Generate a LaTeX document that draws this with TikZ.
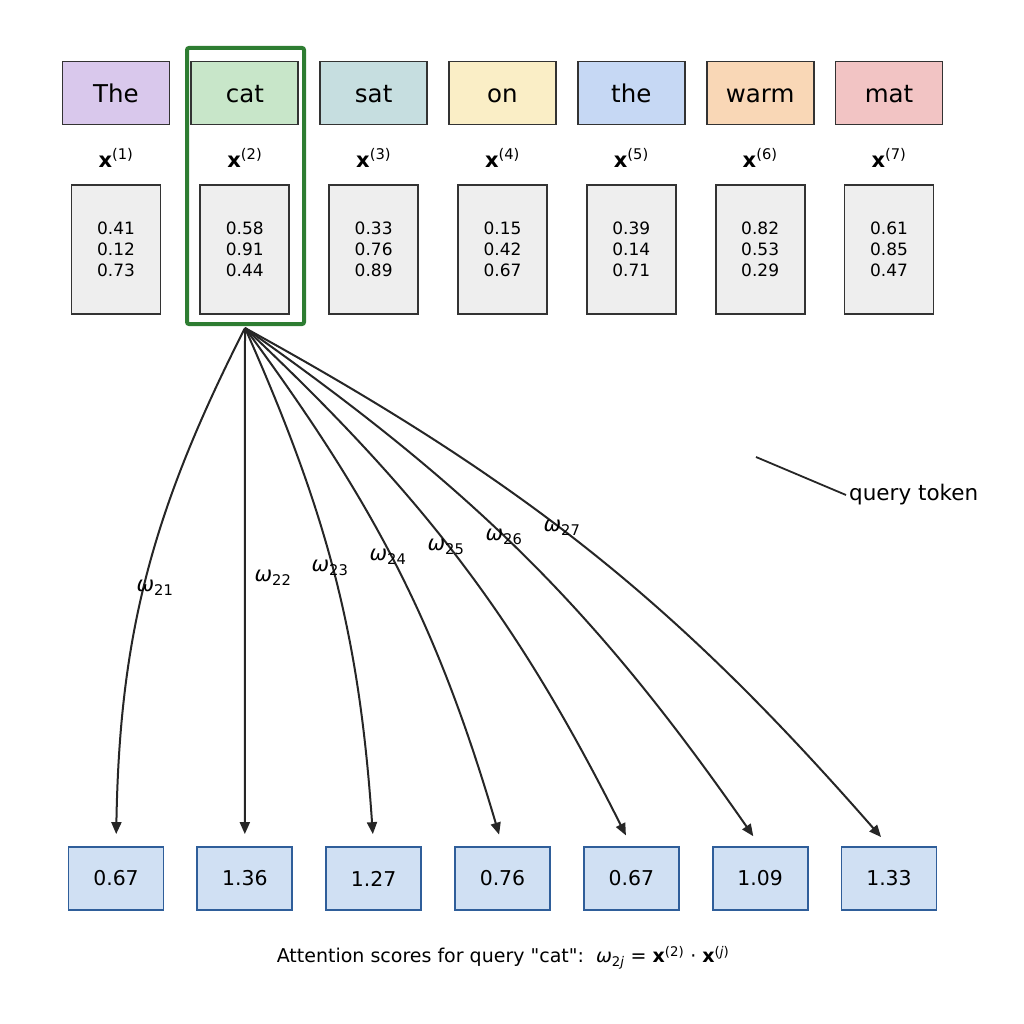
\documentclass[tikz,border=0pt]{standalone}
\usepackage{fontspec}
\setmainfont{DejaVu Sans}[Ligatures=TeXOff]
\usetikzlibrary{arrows.meta}

\definecolor{tokA}{HTML}{D9C8EC}
\definecolor{tokB}{HTML}{C8E6C9}
\definecolor{tokC}{HTML}{C6DEE0}
\definecolor{tokD}{HTML}{FAEEC6}
\definecolor{tokE}{HTML}{C6D8F4}
\definecolor{tokF}{HTML}{F9D7B6}
\definecolor{tokG}{HTML}{F2C4C4}
\definecolor{vecfill}{HTML}{EEEEEE}
\definecolor{edgegray}{HTML}{333333}
\definecolor{scorefill}{HTML}{D0E0F3}
\definecolor{scoreedge}{HTML}{2F5E9A}
\definecolor{hlgreen}{HTML}{2E7D32}

\begin{document}
\begin{tikzpicture}[x=1pt,y=-1pt,
    tok/.style={draw=edgegray, line width=1.8, minimum width=107, minimum height=63, inner sep=0,
      font=\fontsize{24.5}{28}\selectfont},
    xlbl/.style={inner sep=0, font=\fontsize{21}{24}\selectfont},
    vec/.style={draw=edgegray, fill=vecfill, line width=1.8, minimum width=89, minimum height=129,
      align=center, inner sep=0, font=\fontsize{17}{21}\selectfont},
    score/.style={draw=scoreedge, fill=scorefill, line width=1.8, minimum width=95, minimum height=63,
      inner sep=0, font=\fontsize{20.4}{23}\selectfont},
    wlbl/.style={inner sep=0, font=\fontsize{21}{24}\selectfont},
    arr/.style={draw=black!85, line width=2, -{Triangle[length=12,width=10]}, shorten >=12}]
  \useasboundingbox (0,0) rectangle (1024,1024);

  % Tokens and their labels
  \foreach \w/\c [count=\i] in {The/tokA, cat/tokB, sat/tokC, on/tokD, the/tokE, warm/tokF, mat/tokG} {
    \node[tok, fill=\c] (t\i) at ({116+128.83*(\i-1)},93) {\vphantom{Th}\w};
    \node[xlbl] (x\i) at ({116+128.83*(\i-1)},158) {\textbf{x}\textsuperscript{(\i)}};
  }

  % Embedding vectors
  \foreach \a/\b/\c [count=\i] in {0.41/0.12/0.73, 0.58/0.91/0.44, 0.33/0.76/0.89, 0.15/0.42/0.67,
      0.39/0.14/0.71, 0.82/0.53/0.29, 0.61/0.85/0.47} {
    \node[vec] (v\i) at ({116+128.83*(\i-1)},249.5) {\a\\\b\\\c};
  }

  % Query highlight
  \draw[hlgreen, line width=4, rounded corners=2] (187,48) rectangle (304,324);
  \coordinate (q) at (245,328);

  % Scores
  \foreach \v [count=\i] in {0.67, 1.36, 1.27, 0.76, 0.67, 1.09, 1.33} {
    \node[score] (s\i) at ({116+128.83*(\i-1)},878.5) {\v};
  }

  % Arrows from the query
  \draw[arr] (q) to[bend right=13] (s1.north);
  \draw[arr] (q) -- (s2.north);
  \foreach \i in {3,...,7} {
    \draw[arr] (q) to[bend left=10] (s\i.north);
  }

  % Weight labels
  \node[wlbl] (w1) at (155,588) {\textit{ω}\textsubscript{21}};
  \node[wlbl] (w2) at (273,578) {\textit{ω}\textsubscript{22}};
  \node[wlbl] (w3) at (330,568) {\textit{ω}\textsubscript{23}};
  \node[wlbl] (w4) at (388,557) {\textit{ω}\textsubscript{24}};
  \node[wlbl] (w5) at (446,547) {\textit{ω}\textsubscript{25}};
  \node[wlbl] (w6) at (504,537) {\textit{ω}\textsubscript{26}};
  \node[wlbl] (w7) at (562,528) {\textit{ω}\textsubscript{27}};

  % Annotation
  \node[anchor=west, inner sep=3, font=\fontsize{21.5}{24}\selectfont] (qt) at (846,495) {query token};
  \coordinate (qp) at (756,457);
  \draw[black!85, line width=1.8] (qp) -- (qt.west);

  % Caption
  \node[font=\fontsize{19}{22}\selectfont] (cap) at (503,958)
    {Attention scores for query "cat":\ \ \textit{ω}\textsubscript{2\textit{j}} = \textbf{x}\textsuperscript{(2)} · \textbf{x}\textsuperscript{(\textit{j})}};
\end{tikzpicture}
\end{document}
